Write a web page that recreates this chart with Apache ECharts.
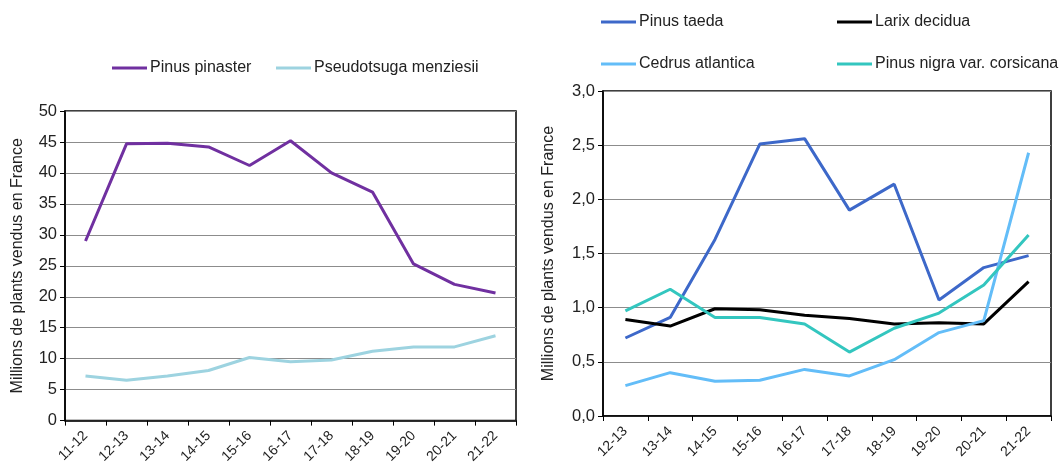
<!DOCTYPE html>
<html>
<head>
<meta charset="utf-8">
<script src="https://cdn.jsdelivr.net/npm/echarts@6/dist/echarts.min.js"></script>
<style>
  html, body { margin: 0; padding: 0; background: #fff; }
  #chart { width: 1061px; height: 466px; }
</style>
</head>
<body>
<div id="chart"></div>
<script>
// Seasons for each panel
const seasonsLeft = ['11-12', '12-13', '13-14', '14-15', '15-16', '16-17', '17-18', '18-19', '19-20', '20-21', '21-22'];
const seasonsRight = ['12-13', '13-14', '14-15', '15-16', '16-17', '17-18', '18-19', '19-20', '20-21', '21-22'];

// Millions of plants sold in France
const pinusPinaster = [29.0, 44.7, 44.8, 44.2, 41.2, 45.2, 40.0, 36.9, 25.3, 22.0, 20.6];
const pseudotsugaMenziesii = [7.2, 6.5, 7.2, 8.1, 10.2, 9.5, 9.8, 11.2, 11.9, 11.9, 13.7];

const pinusTaeda = [0.72, 0.91, 1.63, 2.51, 2.56, 1.90, 2.14, 1.07, 1.37, 1.48];
const larixDecidua = [0.89, 0.83, 0.99, 0.98, 0.93, 0.90, 0.85, 0.86, 0.85, 1.24];
const cedrusAtlantica = [0.28, 0.40, 0.32, 0.33, 0.43, 0.37, 0.52, 0.77, 0.88, 2.43];
const pinusNigraCorsicana = [0.97, 1.17, 0.91, 0.91, 0.85, 0.59, 0.81, 0.95, 1.21, 1.67];

const yName = 'Millions de plants vendus en France';
const txt = '#222';
const font = 'Liberation Sans, Arial, sans-serif';

function legendAt(name, left, top) {
  return {
    data: [name], left: left, top: top, orient: 'horizontal',
    icon: 'rect', itemWidth: 35, itemHeight: 3, itemGap: 4,
    textStyle: { fontSize: 16, color: txt, fontFamily: font, padding: [0, 0, 0, -2] },
    selectedMode: false, padding: 0
  };
}

function xAxisFor(grid, cats) {
  return {
    type: 'category', gridIndex: grid, data: cats, boundaryGap: true,
    axisLine: { lineStyle: { color: '#000', width: 1.5 } },
    axisTick: { show: true, interval: 0, length: 5, lineStyle: { color: '#000' } },
    axisLabel: { rotate: 45, interval: 0, fontSize: 14, color: txt, fontFamily: font, margin: 13 },
    splitLine: { show: false }
  };
}

function yAxisFor(grid, max, interval, gap, fmt) {
  return {
    type: 'value', gridIndex: grid, min: 0, max: max, interval: interval,
    name: yName, nameLocation: 'middle', nameGap: gap, nameRotate: 90,
    nameTextStyle: { fontSize: 16, color: txt, fontFamily: font },
    axisLine: { show: true, lineStyle: { color: '#000', width: 1.5 } },
    axisTick: { show: true, length: 5, lineStyle: { color: '#000' } },
    axisLabel: { fontSize: 16.5, color: txt, fontFamily: font, margin: 8, formatter: fmt },
    splitLine: { show: true, lineStyle: { color: '#8c8c8c', width: 1 } }
  };
}

function lineSeries(name, data, color, xi, yi) {
  return {
    name: name, type: 'line', data: data, xAxisIndex: xi, yAxisIndex: yi,
    symbol: 'none', smooth: false,
    lineStyle: { color: color, width: 3 }, itemStyle: { color: color },
    emphasis: { disabled: true }
  };
}

const chart = echarts.init(document.getElementById('chart'), null, { renderer: 'canvas' });
chart.setOption({
  animation: false,
  backgroundColor: '#fff',
  textStyle: { fontFamily: font },
  legend: [
    legendAt('Pinus pinaster', 112, 60),
    legendAt('Pseudotsuga menziesii', 276, 60),
    legendAt('Pinus taeda', 601, 14),
    legendAt('Larix decidua', 837, 14),
    legendAt('Cedrus atlantica', 601, 56),
    legendAt('Pinus nigra var. corsicana', 837, 56)
  ],
  grid: [
    { left: 65, top: 111, width: 451, height: 311, show: true, borderColor: '#000', borderWidth: 1.5, backgroundColor: 'transparent' },
    { left: 603, top: 91, width: 448, height: 325, show: true, borderColor: '#000', borderWidth: 1.5, backgroundColor: 'transparent' }
  ],
  xAxis: [xAxisFor(0, seasonsLeft), xAxisFor(1, seasonsRight)],
  yAxis: [
    yAxisFor(0, 50, 5, 39, v => String(v)),
    yAxisFor(1, 3, 0.5, 46, v => v.toFixed(1).replace('.', ','))
  ],
  series: [
    lineSeries('Pinus pinaster', pinusPinaster, '#7030a0', 0, 0),
    lineSeries('Pseudotsuga menziesii', pseudotsugaMenziesii, '#9dd3e0', 0, 0),
    lineSeries('Pinus taeda', pinusTaeda, '#3d68c9', 1, 1),
    lineSeries('Larix decidua', larixDecidua, '#000000', 1, 1),
    lineSeries('Cedrus atlantica', cedrusAtlantica, '#63bdf8', 1, 1),
    lineSeries('Pinus nigra var. corsicana', pinusNigraCorsicana, '#33c6bf', 1, 1)
  ]
});
</script>
</body>
</html>
